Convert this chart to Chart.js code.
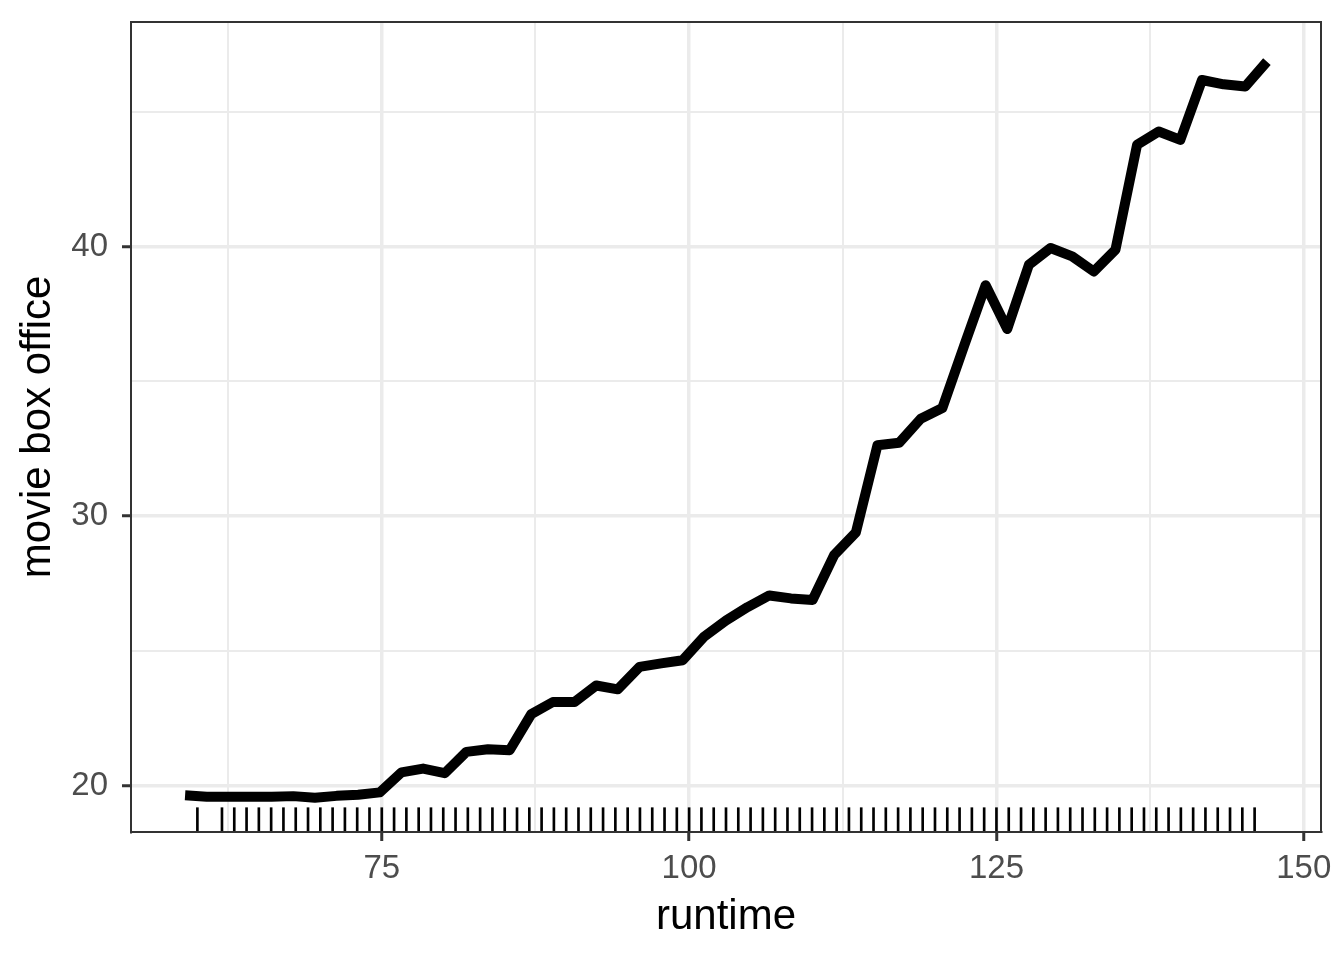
<!DOCTYPE html>
<html>
<head>
<meta charset="utf-8">
<title>movie box office by runtime</title>
<script src="https://cdn.jsdelivr.net/npm/chart.js@4.4.1/dist/chart.umd.min.js"></script>
<style>
  html, body { margin: 0; padding: 0; background: #fff; }
  canvas { display: block; }
</style>
</head>
<body>
<canvas id="myChart" width="1344" height="960"></canvas>
<script>
'use strict';

// valores
const runtimeGrid = [59, 60.76, 62.52, 64.28, 66.04, 67.8, 69.56, 71.32, 73.08, 74.84,
  76.6, 78.36, 80.12, 81.88, 83.64, 85.4, 87.16, 88.92, 90.68, 92.44,
  94.2, 95.96, 97.72, 99.48, 101.24, 103, 104.76, 106.52, 108.28, 110.04,
  111.8, 113.56, 115.32, 117.08, 118.84, 120.6, 122.36, 124.12, 125.88, 127.64,
  129.4, 131.16, 132.92, 134.68, 136.44, 138.2, 139.96, 141.72, 143.48, 145.24, 147];

const boxOffice = [19.65, 19.60, 19.60, 19.60, 19.60, 19.62, 19.56, 19.63, 19.67, 19.76,
  20.50, 20.64, 20.47, 21.26, 21.36, 21.32, 22.66, 23.11, 23.11, 23.72,
  23.58, 24.41, 24.54, 24.66, 25.54, 26.13, 26.63, 27.06, 26.95, 26.89,
  28.56, 29.39, 32.63, 32.72, 33.61, 34.01, 36.30, 38.56, 36.94, 39.32,
  39.94, 39.63, 39.07, 39.88, 43.77, 44.26, 43.95, 46.17, 46.01, 45.93, 46.85];

const rugRuntimes = [60, 62, 63, 64, 65, 66, 67, 68, 69, 70, 71, 72, 73, 74, 75, 76, 77, 78, 79, 80,
  81, 82, 83, 84, 85, 86, 87, 88, 89, 90, 91, 92, 93, 94, 95, 96, 97, 98, 99, 100,
  101, 102, 103, 104, 105, 106, 107, 108, 109, 110, 111, 112, 113, 114, 115, 116, 117, 118, 119, 120,
  121, 122, 123, 124, 125, 126, 127, 128, 129, 130, 131, 132, 133, 134, 135, 136, 137, 138, 139, 140,
  141, 142, 143, 144, 145, 146];

const xTicks = [75, 100, 125, 150];
const yTicks = [20, 30, 40];
const xMinorTicks = [62.5, 87.5, 112.5, 137.5];
const yMinorTicks = [25, 35, 45];

const xRange = [54.6, 151.4];
const yRange = [18.29, 48.32];

(function(){
  const FONT = "'Liberation Sans', Arial, sans-serif";
  const GRID = '#EBEBEB';
  const DARK = '#333333';

  function setTicks(values){
    return function(scale){ scale.ticks = values.map(v => ({ value: v })); };
  }

  // tamanho fixo do eixo, sem a folga que o Chart.js reserva para os rotulos
  function fixSize(prop, size){
    return function(scale){
      scale[prop] = size;
      scale.paddingTop = 0; scale.paddingBottom = 0;
      scale.paddingLeft = 0; scale.paddingRight = 0;
    };
  }

  const linePoints = runtimeGrid.map((x, i) => ({ x: x, y: boxOffice[i] }));
  const rugBars = rugRuntimes.map(x => ({ x: x, y: [0, 0.03] }));

  const tickFont = { family: FONT, size: 33 };
  const titleFont = { family: FONT, size: 42 };

  new Chart(document.getElementById('myChart'), {
    type: 'line',
    data: {
      datasets: [
        {
          type: 'line',
          data: linePoints,
          xAxisID: 'x',
          yAxisID: 'y',
          borderColor: '#000',
          borderWidth: 10,
          borderJoinStyle: 'round',
          borderCapStyle: 'butt',
          pointRadius: 0,
          tension: 0,
          fill: false
        },
        {
          type: 'bar',
          data: rugBars,
          xAxisID: 'x',
          yAxisID: 'yRug',
          backgroundColor: '#000',
          borderWidth: 0,
          barThickness: 2,
          grouped: false
        }
      ]
    },
    options: {
      responsive: false,
      animation: false,
      devicePixelRatio: 1,
      layout: { padding: { left: 0, top: 22, right: 23, bottom: 0 } },
      plugins: { legend: { display: false }, tooltip: { enabled: false } },
      scales: {
        x: {
          type: 'linear',
          position: 'bottom',
          min: xRange[0], max: xRange[1],
          offset: false,
          afterBuildTicks: setTicks(xTicks),
          afterFit: fixSize('height', 128),
          grid: { color: GRID, lineWidth: 3.5, offset: false, drawTicks: true,
                  tickLength: 9, tickColor: DARK, tickWidth: 3 },
          border: { display: true, color: DARK, width: 2, z: 1 },
          ticks: { color: '#4D4D4D', font: tickFont, padding: 8, maxRotation: 0 },
          title: { display: true, text: 'runtime', color: '#000', font: titleFont,
                   padding: { top: 0, bottom: 17 } }
        },
        y: {
          type: 'linear',
          position: 'left',
          min: yRange[0], max: yRange[1],
          afterBuildTicks: setTicks(yTicks),
          afterFit: fixSize('width', 131),
          grid: { color: GRID, lineWidth: 3.5, drawTicks: true,
                  tickLength: 9, tickColor: DARK, tickWidth: 3 },
          border: { display: true, color: DARK, width: 2, z: 1 },
          ticks: { color: '#4D4D4D', font: tickFont, padding: 14 },
          title: { display: true, text: 'movie box office', color: '#000', font: titleFont,
                   padding: { top: 13, bottom: 0 } }
        },
        xMinor: {
          type: 'linear',
          position: 'top',
          min: xRange[0], max: xRange[1],
          afterBuildTicks: setTicks(xMinorTicks),
          afterFit: fixSize('height', 0),
          grid: { color: GRID, lineWidth: 2, drawTicks: false },
          border: { display: true, color: DARK, width: 2, z: 1 },
          ticks: { display: false }
        },
        yMinor: {
          type: 'linear',
          position: 'right',
          min: yRange[0], max: yRange[1],
          afterBuildTicks: setTicks(yMinorTicks),
          afterFit: fixSize('width', 0),
          grid: { color: GRID, lineWidth: 2, drawTicks: false },
          border: { display: true, color: DARK, width: 2, z: 1 },
          ticks: { display: false }
        },
        yRug: {
          type: 'linear',
          display: false,
          min: 0, max: 1
        }
      }
    }
  });
})();
</script>
</body>
</html>
